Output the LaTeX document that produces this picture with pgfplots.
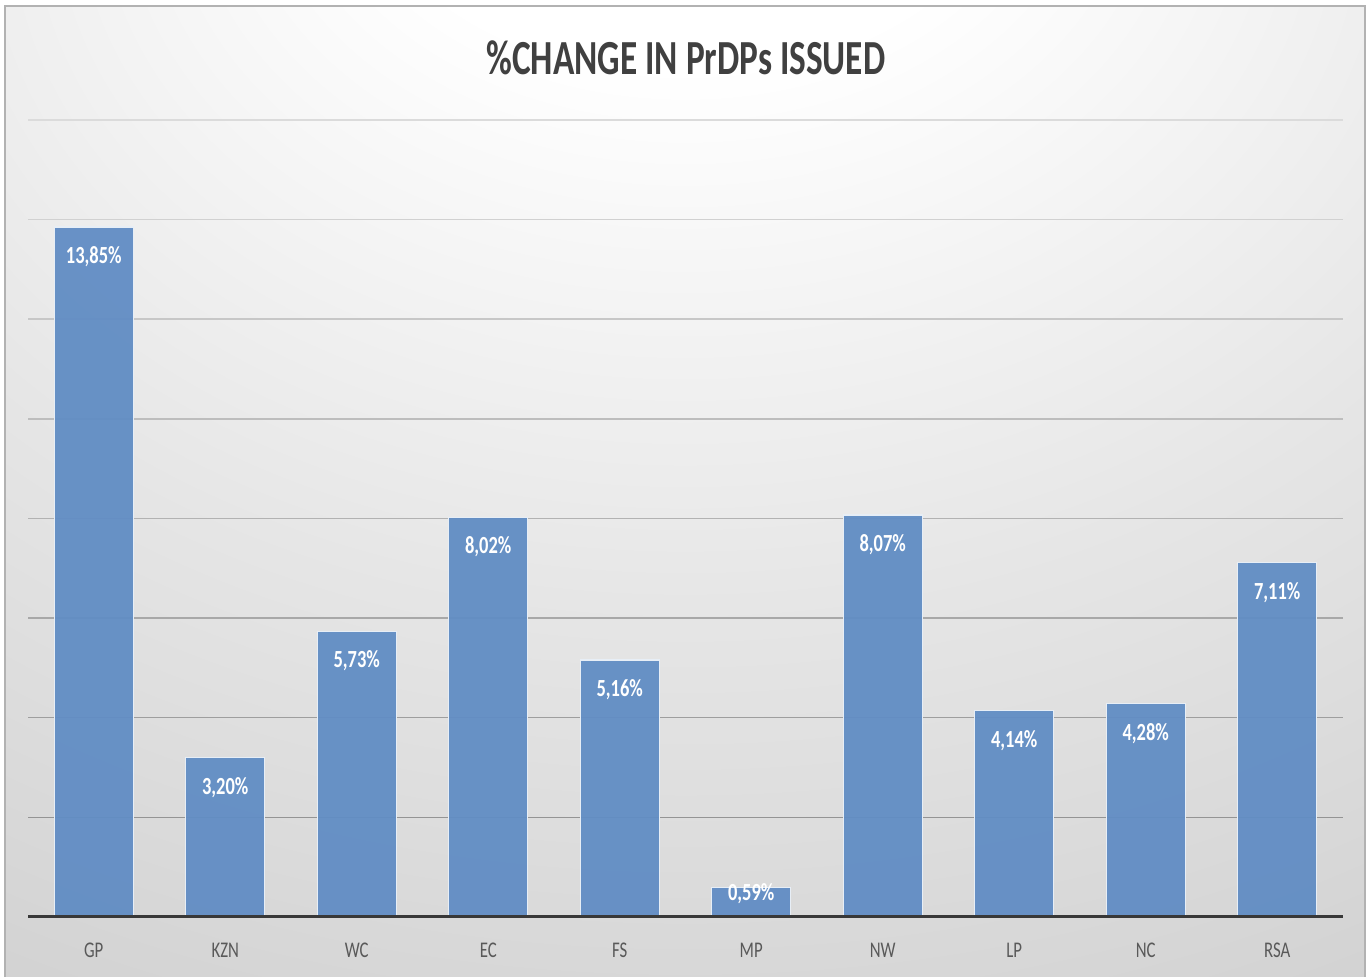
\documentclass[border=0pt]{standalone}
\usepackage{pgfplots}
\pgfplotsset{compat=1.18}
\usepackage{fontspec}
\setmainfont{Carlito}
\definecolor{barblue}{RGB}{97,141,196}
\definecolor{titlegray}{RGB}{64,64,64}
\definecolor{tickgray}{RGB}{89,89,89}
\pgfdeclareradialshading{bgshade}{\pgfpoint{0bp}{38bp}}{color(0bp)=(white); color(12bp)=(white); color(33bp)=(black!10); color(58bp)=(black!20); color(110bp)=(black!21)}
\newcommand\sq[1]{\scalebox{0.75}[1]{#1}}
\begin{document}
\begin{tikzpicture}
\fill[white] (0,0) rectangle (686pt,488.5pt);
\shade[shading=bgshade] (2.5pt,0) rectangle (682.5pt,485.5pt);
\draw[black!30, line width=0.6pt] (2.5pt,0) -- (2.5pt,485.5pt) -- (682.5pt,485.5pt) -- (682.5pt,0);
\node[font=\fontsize{24.5}{28}\selectfont\bfseries, text=titlegray, inner sep=0pt] at (343pt,459.5pt) {\scalebox{0.72}[1]{\%CHANGE IN PrDPs ISSUED}};
\begin{axis}[at={(14pt,30pt)}, anchor=south west, scale only axis,
  width=657.5pt, height=398.5pt,
  xmin=-0.5, xmax=9.5, ymin=0, ymax=16,
  ybar, bar width=0.6, bar shift=0pt,
  axis line style={draw=none}, major tick length=0pt,
  xtick={0,...,9},
  xticklabels={\sq{GP},\sq{KZN},\sq{WC},\sq{EC},\sq{FS},\sq{MP},\sq{NW},\sq{LP},\sq{NC},\sq{RSA}},
  ytick=\empty,
  xticklabel style={anchor=base, yshift=-20.5pt, font=\fontsize{11.2}{13}\selectfont, text=tickgray},
  clip=false,
  /pgf/number format/assume math mode=true,
  nodes near coords={\sq{\pgfmathprintnumber[fixed, fixed zerofill, precision=2, use comma]{\pgfplotspointmeta}\%}},
  every node near coord/.append style={anchor=center, text=white, font=\fontsize{12.3}{14}\selectfont\bfseries},
]
\pgfplotsinvokeforeach{2,4,...,16}{\edef\tmp{\noexpand\draw[black!\the\numexpr 46-2*#1\relax, line width=0.75pt] (axis cs:-0.5,#1) -- (axis cs:9.5,#1);}\tmp}
\addplot[fill=barblue, fill opacity=0.95, draw=white!85!barblue, line width=0.6pt,
  every node near coord/.append style={yshift=-14.8pt, fill opacity=1}]
  coordinates {(0,13.85) (1,3.20) (2,5.73) (3,8.02) (4,5.16) (6,8.07) (7,4.14) (8,4.28) (9,7.11)};
\addplot[fill=barblue, fill opacity=0.95, draw=white!85!barblue, line width=0.6pt,
  every node near coord/.append style={yshift=-3pt, fill opacity=1}]
  coordinates {(5,0.59)};
\draw[black!78, line width=1.5pt] (axis cs:-0.5,0) -- (axis cs:9.5,0);
\end{axis}
\end{tikzpicture}
\end{document}
